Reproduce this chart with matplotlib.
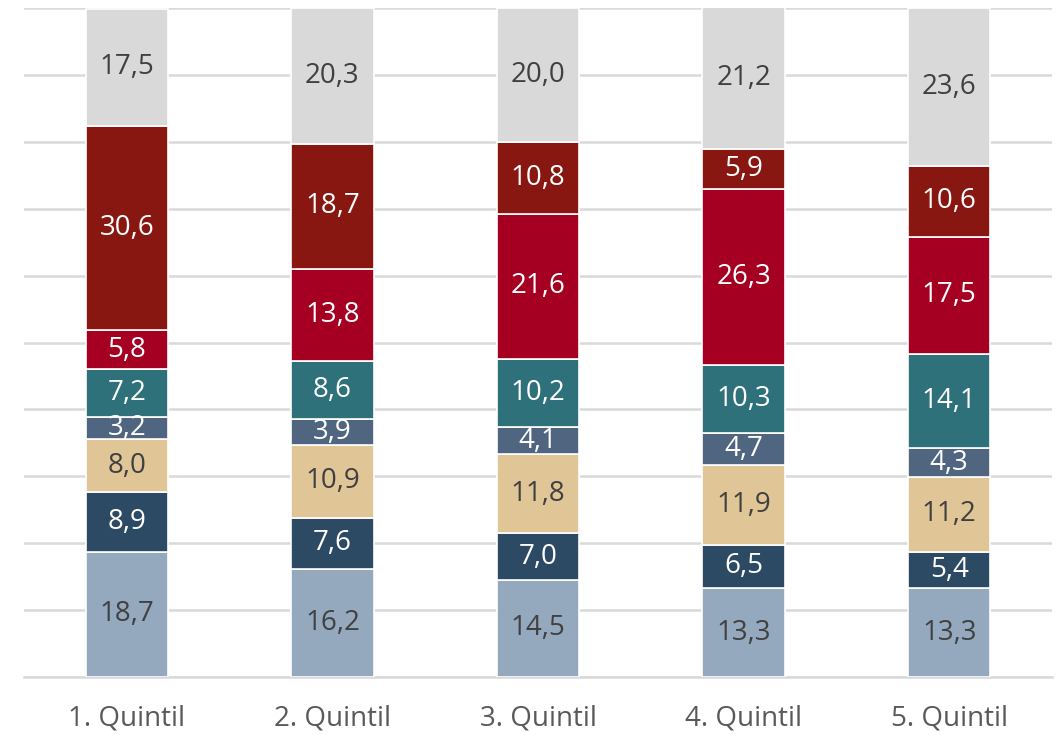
import matplotlib
matplotlib.use("Agg")
import matplotlib.pyplot as plt
import numpy as np

categories = ["1. Quintil", "2. Quintil", "3. Quintil", "4. Quintil", "5. Quintil"]
series_names = ["S1", "S2", "S3", "S4", "S5", "S6", "S7", "S8"]
s1 = [18.7, 16.2, 14.5, 13.3, 13.3]
s2 = [8.9, 7.6, 7.0, 6.5, 5.4]
s3 = [8.0, 10.9, 11.8, 11.9, 11.2]
s4 = [3.2, 3.9, 4.1, 4.7, 4.3]
s5 = [7.2, 8.6, 10.2, 10.3, 14.1]
s6 = [5.8, 13.8, 21.6, 26.3, 17.5]
s7 = [30.6, 18.7, 10.8, 5.9, 10.6]
s8 = [17.5, 20.3, 20.0, 21.2, 23.6]
series = [s1, s2, s3, s4, s5, s6, s7, s8]

colors = ["#94A9BD", "#2D4A65", "#E0C697", "#506680", "#2E717A", "#A50021", "#891711", "#D9D9D9"]
text_colors = ["#404040", "white", "#404040", "white", "white", "white", "white", "#404040"]

plt.rcParams['font.family'] = ['Open Sans', 'DejaVu Sans']

fig = plt.figure(figsize=(10.59, 7.35), dpi=100)
ax = fig.add_axes([24/1059, 58/735, (1052-24)/1059, (677-8)/735])

x = np.arange(len(categories))
bottom = np.zeros(len(categories))
for vals, c, tc in zip(series, colors, text_colors):
    vals = np.array(vals)
    ax.bar(x, vals, bottom=bottom, width=0.4, color=c, edgecolor="white", linewidth=1.2, zorder=3)
    for xi, b, v in zip(x, bottom, vals):
        ax.text(xi, b + v/2, f"{v:.1f}".replace(".", ","), ha="center", va="center",
                color=tc, fontsize=20, zorder=4)
    bottom += vals

ax.set_xlim(-0.5, 4.5)
ax.set_ylim(0, 100)
ax.set_yticks(np.arange(0, 101, 10))
ax.yaxis.grid(True, color="#D9D9D9", linewidth=1.8, zorder=0)
ax.set_axisbelow(True)
ax.tick_params(axis="y", left=False, labelleft=False)
ax.tick_params(axis="x", bottom=False, pad=16, labelsize=20, labelcolor="#595959")
ax.set_xticks(x)
ax.set_xticklabels(categories)
for s in ["top", "right", "left"]:
    ax.spines[s].set_visible(False)
ax.spines["bottom"].set_color("#D9D9D9")
ax.spines["bottom"].set_linewidth(1.8)

fig.savefig("out.png", dpi=100)
